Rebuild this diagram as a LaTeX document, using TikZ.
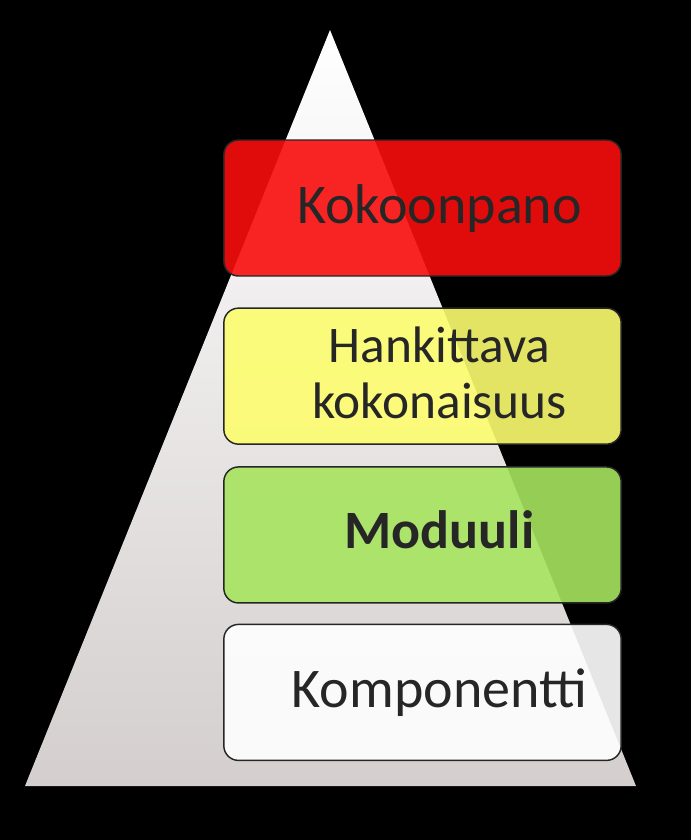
\documentclass[tikz,border=0pt]{standalone}
\usepackage{fontspec}
\setmainfont{Carlito}
\usetikzlibrary{positioning}

\definecolor{kred}{RGB}{249,14,14}
\definecolor{kyellow}{RGB}{253,253,111}
\definecolor{kgreen}{RGB}{167,228,94}
\definecolor{ktext}{RGB}{38,38,38}
\definecolor{kbase}{RGB}{212,206,206}

\begin{document}
\begin{tikzpicture}[x=0.75pt, y=-0.75pt, thick]
        % Define block styles
        \tikzstyle{block} = [rectangle, draw=black!85, line width=1.1pt, rounded corners=11pt, fill opacity=0.9, minimum width=298pt, minimum height=102pt, inner sep=0pt]
        \tikzstyle{caption} = [anchor=base, text=ktext, align=center, inner sep=0pt]

        % Background and pyramid
        \fill[black] (0,0) rectangle (691,840);
        \useasboundingbox (0,0) rectangle (691,840);
        \shade[top color=white, bottom color=kbase] (330,30) -- (636,786) -- (25,786) -- cycle;

        % Place nodes
        \node [block, fill=kred] (kokoonpano) at (422.5,208) {};
        \node [block, fill=kyellow, below=23pt of kokoonpano] (hankittava) {};
        \node [block, fill=kgreen, below=16pt of hankittava] (moduuli) {};
        \node [block, fill=white, below=15pt of moduuli] (komponentti) {};

        % Add text on the boxes
        \node [caption, font=\fontsize{42}{50}\selectfont] at ([xshift=12.75pt, yshift=-11.25pt]kokoonpano.center) {Kokoonpano};
        \node [caption, font=\fontsize{38.5}{42}\selectfont] at ([xshift=12.75pt, yshift=-31.5pt]hankittava.center) {Hankittava\\kokonaisuus};
        \node [caption, font=\fontsize{40.5}{48}\selectfont\bfseries] at ([xshift=12.75pt, yshift=-10.5pt]moduuli.center) {Moduuli};
        \node [caption, font=\fontsize{42}{50}\selectfont] at ([xshift=12.75pt, yshift=-11.25pt]komponentti.center) {Komponentti};
\end{tikzpicture}
\end{document}
